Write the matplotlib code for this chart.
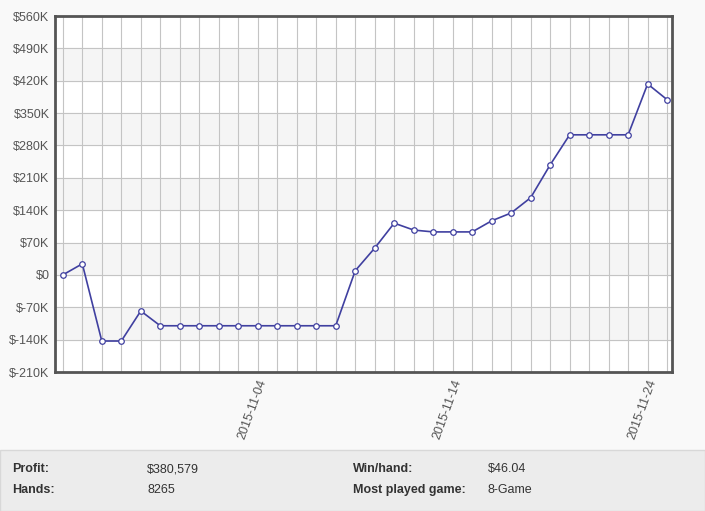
import matplotlib.pyplot as plt
import matplotlib.patches as mpatches
import numpy as np
import pandas as pd

# daily cumulative profit, in $K
dates = pd.date_range("2015-10-25", periods=32, freq="D")
profit_k = [0, 24, -143, -143, -78, -110, -110, -110, -110, -110, -110, -110, -110, -110, -110,
            9, 58, 112, 97, 93, 93, 93, 117, 134, 167, 238, 303, 303, 303, 303, 413, 379]
tick_dates = ["2015-11-04", "2015-11-14", "2015-11-24"]
y_ticks = list(range(-210, 561, 70))

stat_rows = [("Profit:", "$380,579", "Win/hand:", "$46.04"),
             ("Hands:", "8265", "Most played game:", "8-Game")]

plt.rcParams['font.family'] = ['Liberation Sans', 'DejaVu Sans']
fig = plt.figure(figsize=(7.05, 5.11), dpi=100)
fig.patch.set_facecolor('#f9f9f9')

ax = fig.add_axes([55 / 705, 1 - 372 / 511, 617 / 705, 356 / 511])
x = np.arange(len(dates))
ax.set_xlim(-0.4, len(dates) - 0.75)
ax.set_ylim(-210, 560)
ax.set_facecolor('white')

# alternating bands
for i, lo in enumerate(y_ticks[:-1]):
    if i % 2 == 1:
        ax.axhspan(lo, lo + 70, color='#f5f5f5', zorder=0)

for xi in x:
    ax.axvline(xi, color='#c4c4c4', lw=0.8, zorder=1)
ax.grid(True, axis='y', color='#c4c4c4', lw=0.8, zorder=1)

ax.plot(x, profit_k, color='#4040a0', lw=1.2, zorder=3,
        marker='o', markersize=4, markerfacecolor='white', markeredgecolor='#4040a0', markeredgewidth=0.9)

ax.set_yticks(y_ticks)
ax.set_yticklabels([f"${v}K" if v != 0 else "$0" for v in y_ticks])
tick_pos = [list(dates.strftime("%Y-%m-%d")).index(d) for d in tick_dates]
ax.set_xticks(tick_pos)
ax.set_xticklabels(tick_dates, rotation=70, ha='right', rotation_mode='anchor')
ax.tick_params(colors='#555555', labelsize=9, length=0, pad=4)
for s in ax.spines.values():
    s.set_color('#555555')
    s.set_linewidth(2)

# stats panel
fig.patches.append(mpatches.Rectangle((0, 0), 1, 1 - 450 / 511, transform=fig.transFigure,
                                      facecolor='#ececec', edgecolor='#d8d8d8', lw=1))
cols = [12, 147, 353, 488]
for r, row in enumerate(stat_rows):
    yy = 1 - (469 + r * 21) / 511
    for c, txt in enumerate(row):
        fig.text(cols[c] / 705, yy, txt, fontsize=9, color='#333333', va='center',
                 fontweight='bold' if c % 2 == 0 else 'normal')

fig.savefig("out.png", dpi=100, facecolor=fig.get_facecolor())
